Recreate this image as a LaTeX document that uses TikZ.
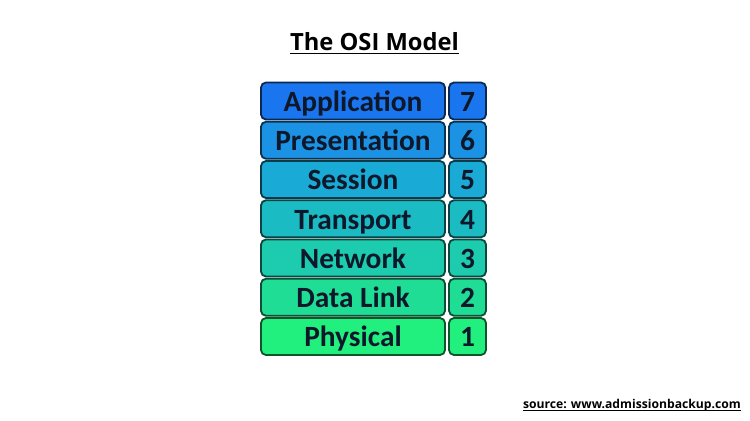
\documentclass[tikz,border=0pt]{standalone}
\usepackage{fontspec}
\setmainfont{Carlito}
\newfontfamily\headfont{Open Sans}
\usetikzlibrary{positioning}

\definecolor{appcol}{RGB}{26,118,238}
\definecolor{prescol}{RGB}{28,146,228}
\definecolor{sesscol}{RGB}{25,170,214}
\definecolor{transcol}{RGB}{27,187,196}
\definecolor{netcol}{RGB}{29,204,174}
\definecolor{linkcol}{RGB}{32,221,150}
\definecolor{physcol}{RGB}{34,240,126}
\definecolor{inkcol}{RGB}{14,24,42}

\begin{document}
\begin{tikzpicture}[x=1bp,y=1bp,node distance=39.25bp,on grid,
  layer/.style={draw=#1!35!black,fill=#1,line width=1.8bp,rounded corners=5bp,
    minimum width=184bp,minimum height=37bp,inner sep=0pt,
    text height=20.5bp,text depth=0pt,text=inkcol,
    font=\fontsize{29.5}{29.5}\selectfont\bfseries},
  num/.style={layer=#1,minimum width=37bp}]
\useasboundingbox[fill=white] (0,0) rectangle (750,-420);
% title and source line
  \node[anchor=base,inner sep=0pt,font=\headfont\bfseries\fontsize{23.8}{23.8}\selectfont]
    (title) at (374.5,-50) {The OSI Model};
  \draw[line width=1.9bp] ([yshift=-3.5bp]title.base west) -- ([yshift=-3.5bp]title.base east);
  \node[anchor=base east,inner sep=0pt,font=\headfont\bfseries\fontsize{12.2}{12.2}\selectfont]
    (src) at (741,-408) {source: www.admissionbackup.com};
  \draw[line width=1bp] ([yshift=-2.5bp]src.base west) -- ([yshift=-2.5bp]src.base east);

% layer names, top to bottom
  \node[layer=appcol]   (app)                       at (353,-101) {Application};
  \node[layer=prescol]  (pres)  [below of = app]    {Presentation};
  \node[layer=sesscol]  (sess)  [below of = pres]   {Session};
  \node[layer=transcol] (trans) [below of = sess]   {Transport};
  \node[layer=netcol]   (net)   [below of = trans]  {Network};
  \node[layer=linkcol]  (link)  [below of = net]    {Data Link};
  \node[layer=physcol]  (phys)  [below of = link]   {Physical};

% layer numbers
  \node[num=appcol]   (n7) [right=114.5bp of app]   {7};
  \node[num=prescol]  (n6) [right=114.5bp of pres]  {6};
  \node[num=sesscol]  (n5) [right=114.5bp of sess]  {5};
  \node[num=transcol] (n4) [right=114.5bp of trans] {4};
  \node[num=netcol]   (n3) [right=114.5bp of net]   {3};
  \node[num=linkcol]  (n2) [right=114.5bp of link]  {2};
  \node[num=physcol]  (n1) [right=114.5bp of phys]  {1};
\end{tikzpicture}
\end{document}
